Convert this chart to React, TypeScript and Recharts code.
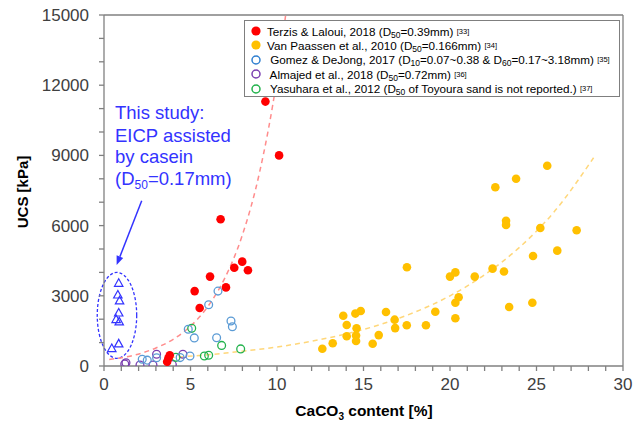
import React from 'react';
import { ComposedChart, Scatter, Line, XAxis, YAxis, ReferenceLine, ReferenceArea, Legend } from 'recharts';

// ---- data ----
const terzisX = [9.33, 10.12, 6.74, 7.99, 7.53, 8.32, 6.13, 7.05, 5.24, 5.53, 3.8, 3.72, 3.65];
const terzisY = [11300, 9000, 6270, 4460, 4200, 4090, 3820, 3360, 3200, 2480, 460, 330, 180];

const paassenX = [25.62, 23.82, 22.62, 23.24, 23.24, 25.22, 27.32, 26.2, 24.8, 17.51, 20.31, 20.0, 21.43, 22.46, 23.12, 20.5, 20.31, 23.42, 24.76, 20.31, 19.15, 18.61, 17.5, 16.3, 16.8, 16.83, 15.88, 15.53, 14.84, 14.53, 13.83, 14.03, 14.6, 14.03, 14.57, 14.57, 13.22, 12.62];
const paassenY = [8560, 8000, 7640, 6210, 6030, 5900, 5800, 4930, 4700, 4220, 4000, 3820, 3820, 4160, 4040, 2940, 2700, 2520, 2700, 2040, 2320, 1740, 1740, 2310, 1980, 1620, 1320, 950, 2350, 2240, 2150, 1750, 1610, 1270, 1300, 1070, 970, 740];

const gomezX = [6.59, 6.05, 7.34, 7.42, 4.87, 5.22, 6.51, 2.21, 2.5, 3.04, 4.4, 4.97];
const gomezY = [3200, 2620, 1920, 1680, 1570, 1200, 1210, 290, 250, 355, 360, 430];

const almajedX = [1.27, 1.2, 2.08, 2.83, 3.04, 3.95, 4.56];
const almajedY = [140, 90, 40, 40, 500, 60, 500];

const yasuharaX = [5.07, 6.8, 7.9, 5.8, 6.05, 4.16];
const yasuharaY = [1610, 880, 730, 430, 460, 370];

const studyX = [0.85, 0.8, 0.9, 0.85, 0.7, 0.88, 0.85, 0.45];
const studyY = [3550, 3050, 2800, 2280, 2000, 1900, 960, 760];

const redTrendX = [0.3, 1.5, 3, 4, 5, 6, 7, 8, 9, 10, 10.5];
const redTrendY = [280, 420, 770, 1140, 1700, 2540, 3780, 5600, 8300, 12300, 15000];

const orangeTrendX = [3.8, 6, 8, 10, 12, 14, 16, 18, 20, 22, 24, 26, 28.3];
const orangeTrendY = [360, 480, 630, 810, 1060, 1370, 1780, 2310, 3000, 3900, 5060, 6570, 8900];

const xTickValues = [0, 1, 2, 3, 4, 5, 6, 7, 8, 9, 10, 11, 12, 13, 14, 15, 16, 17, 18, 19, 20, 21, 22, 23, 24, 25, 26, 27, 28, 29, 30];
const yTickValues = [0, 1000, 2000, 3000, 4000, 5000, 6000, 7000, 8000, 9000, 10000, 11000, 12000, 13000, 14000, 15000];
const xLabelStep = 5;
const yLabelStep = 3000;

const pts = (xs: number[], ys: number[]) => xs.map((x, i) => ({ x, y: ys[i] }));

const RED = '#ff0000';
const ORANGE = '#ffc000';
const BLUE = '#5b9bd5';
const PURPLE = '#7a3fb0';
const GREEN = '#22b24c';
const STUDY = '#3333ff';
const AXIS = '#808080';
const TICK = '#404040';
const FONT = 'Arial, "Liberation Sans", sans-serif';

const circleShape = (color: string, filled: boolean) => (props: any) => {
  const { cx, cy } = props;
  if (cx == null || cy == null) return <g />;
  return filled ? (
    <circle cx={cx} cy={cy} r={4.3} fill={color} stroke="none" />
  ) : (
    <circle cx={cx} cy={cy} r={3.9} fill="none" stroke={color} strokeWidth={1.3} />
  );
};

const triangleShape = (props: any) => {
  const { cx, cy } = props;
  if (cx == null || cy == null) return <g />;
  const s = 4.2;
  return (
    <polygon
      points={`${cx},${cy - s} ${cx - s},${cy + s * 0.8} ${cx + s},${cy + s * 0.8}`}
      fill="none"
      stroke={STUDY}
      strokeWidth={1.2}
    />
  );
};

const arrowShape = (props: any) => {
  const { x1, y1, x2, y2 } = props;
  if (x1 == null) return <g />;
  const ang = Math.atan2(y2 - y1, x2 - x1);
  const L = 9;
  const W = 3.5;
  const bx = x2 - L * Math.cos(ang);
  const by = y2 - L * Math.sin(ang);
  const px = -Math.sin(ang) * W;
  const py = Math.cos(ang) * W;
  return (
    <g>
      <line x1={x1} y1={y1} x2={bx} y2={by} stroke={STUDY} strokeWidth={1.5} />
      <polygon points={`${x2},${y2} ${bx + px},${by + py} ${bx - px},${by - py}`} fill={STUDY} />
    </g>
  );
};

const ellipseShape = (props: any) => {
  const { x, y, width, height } = props;
  if (x == null) return <g />;
  return (
    <ellipse
      cx={x + width / 2}
      cy={y + height / 2}
      rx={Math.abs(width) / 2}
      ry={Math.abs(height) / 2}
      fill="none"
      stroke={STUDY}
      strokeWidth={1.3}
      strokeDasharray="3 2"
    />
  );
};

const legendRows = [
  { color: RED, filled: true, pre: 'Terzis & Laloui, 2018 (D', parts: [['50', '=0.39mm) ']], ref: '[33]' },
  { color: ORANGE, filled: true, pre: 'Van Paassen et al., 2010 (D', parts: [['50', '=0.166mm) ']], ref: '[34]' },
  { color: '#2f7fd0', filled: false, pre: ' Gomez & DeJong, 2017 (D', parts: [['10', '=0.07~0.38 & D'], ['60', '=0.17~3.18mm) ']], ref: '[35]' },
  { color: PURPLE, filled: false, pre: ' Almajed et al., 2018 (D', parts: [['50', '=0.72mm) ']], ref: '[36]' },
  { color: GREEN, filled: false, pre: ' Yasuhara et al., 2012 (D', parts: [['50', ' of Toyoura sand is not reported.) ']], ref: '[37]' },
];

const smallStyle = (size: number, shift: number): React.CSSProperties => ({
  fontSize: size,
  display: 'inline-block',
  lineHeight: `${size}px`,
  height: size,
  transform: `translateY(${shift}px)`,
});

const LegendBox = () => (
  <div
    style={{
      position: 'relative',
      width: 376,
      height: 77,
      boxSizing: 'border-box',
      border: '1.5px solid #7f7f7f',
      background: '#fff',
      fontFamily: FONT,
      fontSize: 11.7,
      color: '#000',
    }}
  >
    {legendRows.map((r, i) => (
      <div
        key={i}
        style={{ position: 'absolute', left: 0, top: 3.5 + i * 14.4, height: 13, whiteSpace: 'pre', lineHeight: '13px' }}
      >
        <svg width={14} height={14} style={{ position: 'absolute', left: 4, top: -0.5 }}>
          {r.filled ? (
            <circle cx={7} cy={7} r={4.6} fill={r.color} />
          ) : (
            <circle cx={7} cy={7} r={4} fill="none" stroke={r.color} strokeWidth={1.5} />
          )}
        </svg>
        <span style={{ position: 'absolute', left: 22, top: 0 }}>
          {r.pre}
          {r.parts.map((p, j) => (
            <React.Fragment key={j}>
              <span style={smallStyle(8.5, 1.5)}>{p[0]}</span>
              {p[1]}
            </React.Fragment>
          ))}
          <span style={smallStyle(7.5, -2.5)}>{r.ref}</span>
        </span>
      </div>
    ))}
  </div>
);

export default function App() {
  return (
    <div style={{ position: 'absolute', left: 0, top: 0, width: 635, height: 428, background: '#fff' }}>
      <ComposedChart width={635} height={428} margin={{ top: 15, right: 12, bottom: 32, left: 0 }}>
        <XAxis
          type="number"
          dataKey="x"
          domain={[0, 30]}
          ticks={xTickValues}
          interval={0}
          allowDataOverflow
          tickFormatter={(v: number) => (v % xLabelStep === 0 ? String(v) : '')}
          tickSize={5}
          tickMargin={7}
          height={30}
          stroke={AXIS}
          strokeWidth={1.3}
          tick={{ fill: TICK, fontSize: 17, fontFamily: FONT }}
        />
        <YAxis
          type="number"
          dataKey="y"
          domain={[0, 15000]}
          ticks={yTickValues}
          interval={0}
          allowDataOverflow
          tickFormatter={(v: number) => (v % yLabelStep === 0 ? String(v) : '')}
          tickSize={5}
          tickMargin={10}
          width={104}
          stroke={AXIS}
          strokeWidth={1.3}
          tick={{ fill: TICK, fontSize: 17, fontFamily: FONT }}
        />
        <ReferenceLine y={15000} stroke={AXIS} strokeWidth={1.3} ifOverflow="visible" />
        <ReferenceLine x={30} stroke={AXIS} strokeWidth={1.3} ifOverflow="visible" />

        <Line
          data={pts(redTrendX, redTrendY)}
          dataKey="y"
          type="monotone"
          dot={false}
          activeDot={false}
          stroke="#ff8c8c"
          strokeWidth={1.5}
          strokeDasharray="5 4"
          isAnimationActive={false}
          legendType="none"
        />
        <Line
          data={pts(orangeTrendX, orangeTrendY)}
          dataKey="y"
          type="monotone"
          dot={false}
          activeDot={false}
          stroke="#ffd77a"
          strokeWidth={1.5}
          strokeDasharray="5 4"
          isAnimationActive={false}
          legendType="none"
        />

        <ReferenceArea x1={-0.39} x2={1.89} y1={330} y2={4000} ifOverflow="visible" shape={ellipseShape} />
        <ReferenceLine
          segment={[{ x: 2.18, y: 7060 }, { x: 0.73, y: 4316 }]}
          ifOverflow="visible"
          shape={arrowShape}
        />

        <Scatter data={pts(studyX, studyY)} dataKey="y" shape={triangleShape} isAnimationActive={false} />
        <Scatter data={pts(almajedX, almajedY)} dataKey="y" shape={circleShape(PURPLE, false)} isAnimationActive={false} />
        <Scatter data={pts(yasuharaX, yasuharaY)} dataKey="y" shape={circleShape(GREEN, false)} isAnimationActive={false} />
        <Scatter data={pts(gomezX, gomezY)} dataKey="y" shape={circleShape(BLUE, false)} isAnimationActive={false} />
        <Scatter data={pts(paassenX, paassenY)} dataKey="y" shape={circleShape(ORANGE, true)} isAnimationActive={false} />
        <Scatter data={pts(terzisX, terzisY)} dataKey="y" shape={circleShape(RED, true)} isAnimationActive={false} />

        <Legend
          layout="vertical"
          align="center"
          verticalAlign="middle"
          wrapperStyle={{ left: 244, top: 20, width: 376, height: 77 }}
          content={() => <LegendBox />}
        />
      </ComposedChart>

      <svg
        width={635}
        height={428}
        style={{ position: 'absolute', left: 0, top: 0, pointerEvents: 'none' }}
      >
        <text
          x={22}
          y={192}
          transform="rotate(-90 22 192)"
          textAnchor="middle"
          dominantBaseline="central"
          fontFamily={FONT}
          fontWeight="bold"
          fontSize={15}
          fill="#000"
        >
          UCS [kPa]
        </text>
        <text x={364} y={416} textAnchor="middle" fontFamily={FONT} fontWeight="bold" fontSize={15.5} fill="#000">
          CaCO<tspan fontSize={10} dy={4}>3</tspan>
          <tspan dy={-4}> content [%]</tspan>
        </text>
        <g fontFamily={FONT} fontSize={18.5} fill={STUDY}>
          <text x={115} y={119}>This study:</text>
          <text x={115} y={141.5}>EICP assisted</text>
          <text x={115} y={163}>by casein</text>
          <text x={115} y={185}>
            (D<tspan fontSize={12} dy={4}>50</tspan>
            <tspan dy={-4}>=0.17mm)</tspan>
          </text>
        </g>
      </svg>
    </div>
  );
}
